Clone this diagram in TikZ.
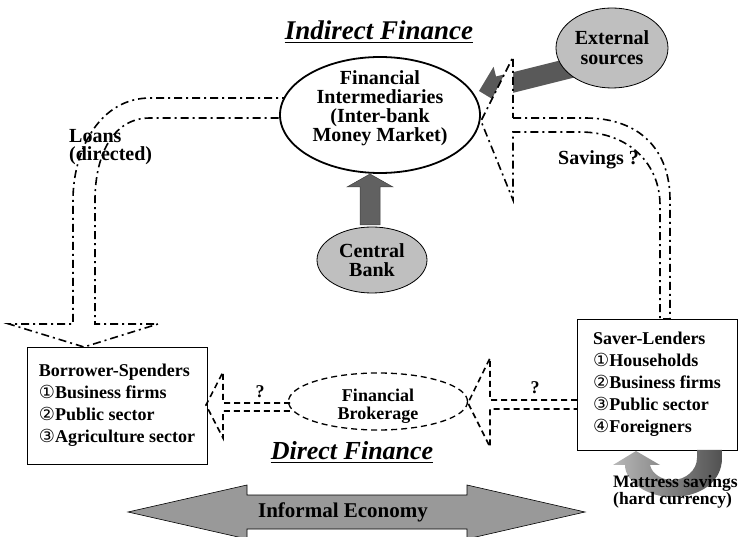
\documentclass[tikz,border=0pt]{standalone}
\usepackage{fontspec}
\setmainfont{Liberation Serif}
\newfontfamily\circfont{DejaVu Sans}
\usetikzlibrary{shapes.geometric}
\newcommand{\cnum}[1]{{\circfont\mdseries #1}}

\begin{document}
\begin{tikzpicture}[x=1pt, y=-1pt,
  dashdot/.style={dash pattern=on 8pt off 4pt on 2pt off 4pt, line width=1.6pt},
  dashline/.style={dash pattern=on 6pt off 4pt, line width=1.6pt},
  txt/.style={font=\bfseries\fontsize{20}{19}\selectfont, align=center, inner sep=0pt},
  boxtxt/.style={draw, line width=0.8pt, fill=white, font=\bfseries\fontsize{18}{22}\selectfont, align=left, inner sep=0pt},
  grayell/.style={ellipse, draw, line width=0.8pt, fill=black!25, inner sep=0pt, align=center},
  title/.style={font=\bfseries\itshape\fontsize{26}{28}\selectfont, inner sep=0pt, anchor=base}]
\useasboundingbox (0,0) rectangle (745,537);

% external inflow, behind the savings arrow
\begin{scope}[shift={(479,91)}, rotate=14]
\fill[black!65] (0,0) -- (20,-20) -- (20,-10) -- (120,-10) -- (120,10) -- (20,10) -- (20,20) -- cycle;
\end{scope}

% savings and loans
\draw[dashdot, fill=white] (513,118) -- (585,118) .. controls (640,118) and (670,150) .. (670,200) -- (670,319)
  -- (660,319) -- (660,205) .. controls (660,165) and (630,132) .. (580,132) -- (513,132) -- (513,200)
  -- (481,121) -- (513,57) -- cycle;
\draw[dashdot, fill=white] (290,98) -- (150,98) .. controls (100,98) and (73,150) .. (73,200) -- (73,324)
  -- (9,324) -- (84,347) -- (158,324) -- (95,324) -- (95,200) .. controls (95,160) and (110,118) .. (150,118) -- (290,118);

\node[ellipse, draw, line width=1.8pt, fill=white, minimum width=200pt, minimum height=116pt] (fi) at (380,115) {};
\node[txt] (fitxt) at (380,108.5) {Financial\\Intermediaries\\(Inter-bank\\Money Market)};

\node[grayell, font=\bfseries\fontsize{20}{20}\selectfont, minimum width=112pt, minimum height=80pt] (ext) at (612,48) {External\\sources};

% central bank
\draw[fill=black!62, draw=black!75, line width=0.5pt] (360,225) -- (360,187) -- (347,187) -- (370,174) -- (393,187) -- (380,187) -- (380,225) -- cycle;
\node[grayell, font=\bfseries\fontsize{20}{19.5}\selectfont, minimum width=110pt, minimum height=66pt] (cb) at (372,260) {Central\\Bank};

\node[boxtxt, minimum width=180pt, minimum height=117pt] (bor) at (117,405.5)
  {Borrower-Spenders\\\cnum{①}Business firms\\\cnum{②}Public sector\\\cnum{③}Agriculture sector};
\node[boxtxt, minimum width=160pt, minimum height=131pt] (sav) at (657,384.5)
  {Saver-Lenders\\\cnum{①}Households\\\cnum{②}Business firms\\\cnum{③}Public sector\\\cnum{④}Foreigners};

% direct finance
\node[ellipse, draw, dashline, line width=1.3pt, minimum width=179pt, minimum height=57pt] (brk) at (378,401.5) {};
\node[font=\bfseries\fontsize{18}{18}\selectfont, align=center, inner sep=0pt] (brktxt) at (378,406) {Financial\\Brokerage};
\draw[dashline] (290,403) -- (223,403) -- (223,372) -- (206,405) -- (223,438) -- (223,411) -- (290,411);
\draw[dashline] (577,400) -- (490,400) -- (490,358) -- (468,403) -- (490,447) -- (490,409) -- (577,409);
\node[font=\bfseries\fontsize{18}{18}\selectfont] (q1) at (260,392) {?};
\node[font=\bfseries\fontsize{18}{18}\selectfont] (q2) at (535,388) {?};

% informal economy
\draw[fill=black!40, line width=0.6pt] (128,512) -- (247,485) -- (247,495) -- (467,495) -- (467,485) -- (585,512)
  -- (467,539) -- (467,529) -- (247,529) -- (247,539) -- cycle;
\node[font=\bfseries\fontsize{21}{21}\selectfont, inner sep=0pt] (inf) at (343,512) {Informal Economy};

% mattress savings
\shade[left color=black!28, right color=black!68] (722,450) -- (722,458) .. controls (722,482) and (700,497) .. (672,497)
  .. controls (648,497) and (625,482) .. (625,465) -- (613,465) -- (636,451) -- (660,465) -- (650,465)
  .. controls (652,474) and (662,480) .. (672,480) .. controls (686,480) and (697,470) .. (697,458) -- (697,450) -- cycle;
\node[font=\bfseries\fontsize{17.5}{17.5}\selectfont, align=left, inner sep=0pt, anchor=west] (mat) at (613,492) {Mattress savings\\(hard currency)};

% labels
\node[txt, font=\bfseries\fontsize{20}{18.5}\selectfont, align=left, anchor=west] (loans) at (69,147) {Loans\\(directed)};
\node[txt, anchor=base west] (savlbl) at (558,165) {Savings ?};
\node[title, font=\bfseries\itshape\fontsize{27}{28}\selectfont] (indir) at (379,40) {Indirect Finance};
\draw[line width=1.5pt] ([yshift=-2.5pt]indir.base west) -- ([yshift=-2.5pt]indir.base east);
\node[title] (dir) at (352,460) {Direct Finance};
\draw[line width=1.5pt] ([yshift=-2.5pt]dir.base west) -- ([yshift=-2.5pt]dir.base east);

\end{tikzpicture}
\end{document}
